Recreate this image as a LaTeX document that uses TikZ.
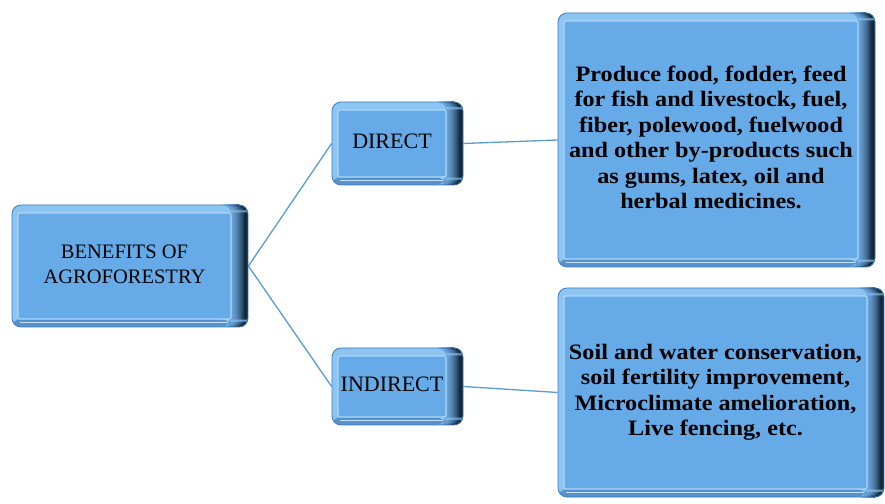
\documentclass[tikz,border=0pt]{standalone}
\usepackage{fontspec}
\setmainfont{Liberation Serif}
\newfontfamily\widebold[FakeStretch=1.1]{Liberation Serif}
\usepackage{tikz}
\pgfdeclarelayer{bg}
\pgfsetlayers{bg,main}

\definecolor{faceBlue}{HTML}{66AAE8}
\definecolor{rimBlue}{HTML}{8CC4F2}
\definecolor{rimLight}{HTML}{6AA6DC}
\definecolor{rimDark}{HTML}{14283C}
\definecolor{rimEdge}{HTML}{3F7DBA}
\definecolor{linkBlue}{HTML}{5B9BD5}

% text sits on the face, which is narrower on the right
\newcommand{\facetext}[1]{\begin{tabular}{@{}c@{\hspace{11pt}}}#1\end{tabular}}

\tikzset{
        bevelbox/.style={rounded corners=9pt, draw=rimEdge, line width=0.8pt, fill=rimBlue,
                inner sep=0pt,
                path picture={
                        % dark right side, in slices
                        \foreach \i in {0,...,17} {
                                \pgfmathtruncatemacro{\pct}{min(100,\i*\i*0.35+\i*2)}
                                \fill[rimDark!\pct!rimLight]
                                        ([xshift=\i pt-18pt]path picture bounding box.north east)
                                        rectangle ([xshift=\i pt-16.8pt]path picture bounding box.south east);
                        }
                        \fill[rimEdge!70!rimBlue]
                                ([yshift=8pt]path picture bounding box.south west)
                                rectangle ([xshift=-18pt]path picture bounding box.south east);
                        \draw[rimBlue!50!white, line width=1.5pt]
                                ([shift={(8pt,4.5pt)}]path picture bounding box.south west)
                                -- ([shift={(-20pt,4.5pt)}]path picture bounding box.south east);
                        \fill[faceBlue, draw=rimBlue!70!white, line width=1.2pt, rounded corners=2pt]
                                ([shift={(6pt,-8pt)}]path picture bounding box.north west)
                                rectangle ([shift={(-17pt,8pt)}]path picture bounding box.south east);
                }},
        link/.style={draw=linkBlue, line width=1.3pt},
        plain/.style={font=\fontsize{20.5}{25}\selectfont},
        bold/.style={font=\widebold\fontsize{22}{25.5}\selectfont\bfseries},
}

\begin{document}
\begin{tikzpicture}
        \useasboundingbox (0pt, 0pt) rectangle (885pt, 503pt);
        \node (root) [bevelbox, plain, minimum width=236pt, minimum height=122pt] at (130pt, 237pt) {\facetext{BENEFITS OF\\AGROFORESTRY}};
        \node (direct) [bevelbox, plain, font=\fontsize{22}{25}\selectfont, minimum width=131pt, minimum height=83pt] at (397.5pt, 359.5pt) {\facetext{DIRECT}};
        \node (indirect) [bevelbox, plain, font=\fontsize{22}{25}\selectfont, minimum width=131pt, minimum height=77pt] at (397.5pt, 116.5pt) {\facetext{INDIRECT}};
        \node (uses) [bevelbox, bold, minimum width=317pt, minimum height=254pt] at (716.5pt, 363pt) {\facetext{Produce food, fodder, feed\\for fish and livestock, fuel,\\fiber, polewood, fuelwood\\and other by-products such\\as gums, latex, oil and\\herbal medicines.}};
        \node (services) [bevelbox, bold, minimum width=326pt, minimum height=209pt] at (721pt, 110.5pt) {\facetext{Soil and water conservation,\\soil fertility improvement,\\Microclimate amelioration,\\Live fencing, etc.}};
        \begin{pgfonlayer}{bg}
                \draw [link] (root.east) -- (direct.west);
                \draw [link] (root.east) -- (indirect.west);
                \draw [link] (direct.east) -- (uses.west);
                \draw [link] (indirect.east) -- (services.west);
        \end{pgfonlayer}
\end{tikzpicture}
\end{document}
